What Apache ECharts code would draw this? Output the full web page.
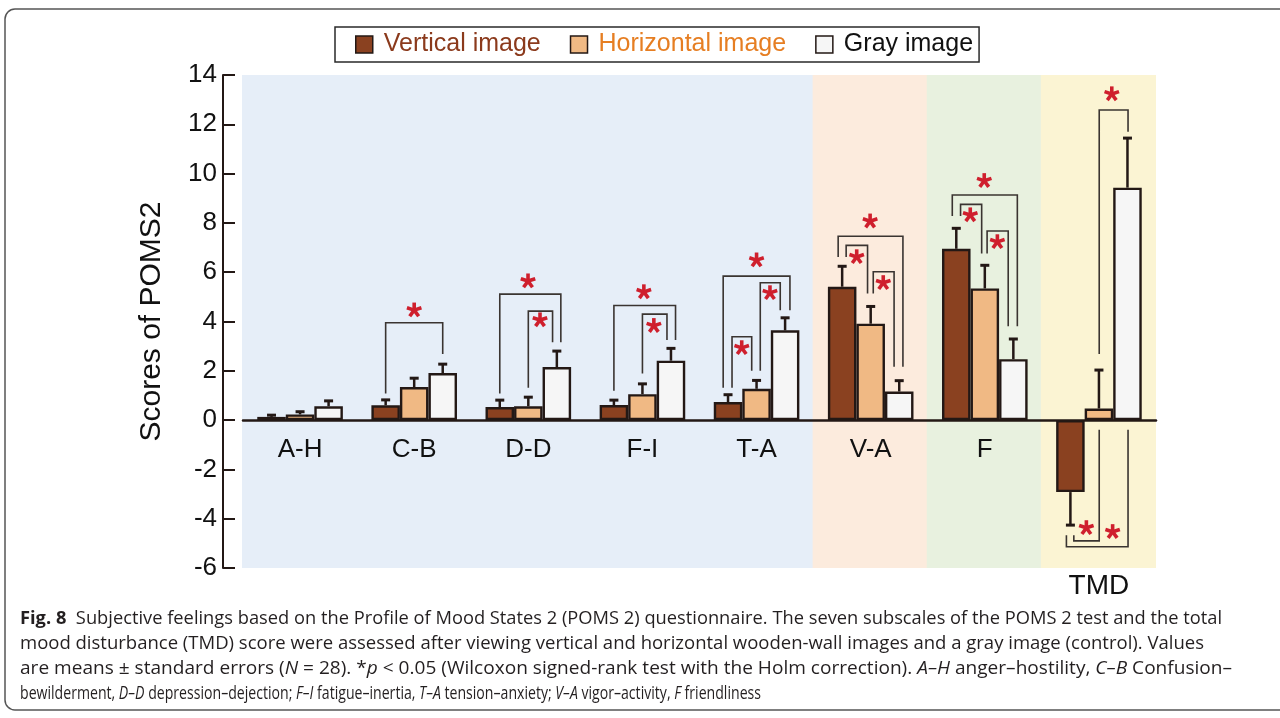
<!DOCTYPE html>
<html><head><meta charset="utf-8">
<script src="https://cdn.jsdelivr.net/npm/echarts@6/dist/echarts.min.js"></script>
<style>html,body{margin:0;padding:0;background:#fff}#c{width:1280px;height:718px}</style>
</head><body><div id="c"></div>
<script>
// ---------- data ----------
const categories = ['A-H', 'C-B', 'D-D', 'F-I', 'T-A', 'V-A', 'F', 'TMD'];
const seriesNames = ['Vertical image', 'Horizontal image', 'Gray image'];
const verticalMean   = [0.13, 0.60, 0.53, 0.61, 0.73, 5.41, 6.95, -2.92];
const verticalSE     = [0.07, 0.22, 0.28, 0.20, 0.30, 0.83, 0.83, 1.34];
const horizontalMean = [0.23, 1.34, 0.56, 1.05, 1.27, 3.91, 5.34, 0.47];
const horizontalSE   = [0.11, 0.36, 0.37, 0.42, 0.34, 0.70, 0.94, 1.56];
const grayMean       = [0.56, 1.91, 2.15, 2.41, 3.64, 1.16, 2.47, 9.43];
const graySE         = [0.22, 0.36, 0.65, 0.50, 0.51, 0.44, 0.82, 2.01];
const yMin = -6, yMax = 14, yInterval = 2;
// significance brackets (data units; slot 0 = vertical, 1 = horizontal, 2 = gray)
// [category, legA slot, legB slot, bracket level, legA end, legB end, star slot, star y]
const brackets = [
  [1, 0.00, 2.00, 3.95, 1.08, 2.68, 1.00, 4.46],
  [2, 0.00, 2.14, 5.11, 1.08, 3.16, 0.99, 5.64],
  [2, 1.00, 1.85, 4.42, 1.31, 3.16, 1.41, 4.06],
  [3, 0.00, 2.16, 4.65, 1.19, 3.25, 1.05, 5.20],
  [3, 1.00, 1.86, 4.30, 1.89, 3.25, 1.40, 3.83],
  [4, -0.17, 2.17, 5.84, 1.31, 4.46, 1.00, 6.49],
  [4, 0.14, 0.83, 3.38, 1.31, 2.00, 0.48, 2.93],
  [4, 1.13, 1.83, 5.57, 2.00, 4.46, 1.47, 5.16],
  [5, -0.14, 2.13, 7.46, 6.62, 2.16, 0.98, 8.07],
  [5, 0.14, 0.89, 7.09, 6.62, 5.14, 0.51, 6.62],
  [5, 1.09, 1.82, 6.02, 5.14, 2.16, 1.44, 5.57],
  [6, -0.14, 2.14, 9.13, 8.28, 3.81, 0.98, 9.71],
  [6, 0.15, 0.89, 8.75, 8.28, 6.76, 0.49, 8.32],
  [6, 1.08, 1.82, 7.67, 6.76, 3.81, 1.44, 7.23],
  [7, 1.01, 2.02, 12.58, 2.68, 11.70, 1.45, 13.23],
  [7, 0.12, 1.01, -4.90, -4.67, -0.39, 0.56, -4.37],
  [7, -0.14, 2.02, -5.14, -4.67, -0.39, 1.48, -4.53]
];
// background groups: [first category, last category, colour index]
const bandGroups = [[0, 4, 0], [5, 5, 1], [6, 6, 2], [7, 7, 3]];
// caption lines: [text, style]
const captionLines = [
  [['Fig. 8', 'b'], ['  Subjective feelings based on the Profile of Mood States 2 (POMS 2) questionnaire. The seven subscales of the POMS 2 test and the total', 'n']],
  [['mood disturbance (TMD) score were assessed after viewing vertical and horizontal wooden-wall images and a gray image (control). Values', 'n']],
  [['are means ± standard errors (', 'n'], ['N', 'i'], [' = 28). *', 'n'], ['p', 'i'], [' < 0.05 (Wilcoxon signed-rank test with the Holm correction). ', 'n'], ['A–H', 'i'], [' anger–hostility, ', 'n'], ['C–B', 'i'], [' Confusion–', 'n']],
  [['bewilderment, ', 'n'], ['D–D', 'i'], [' depression–dejection; ', 'n'], ['F–I', 'i'], [' fatigue–inertia, ', 'n'], ['T–A', 'i'], [' tension–anxiety; ', 'n'], ['V–A', 'i'], [' vigor–activity, ', 'n'], ['F', 'i'], [' friendliness', 'n']]
];

// ---------- style ----------
const barColors = ['#8a4120', '#f0b984', '#f6f6f6'];
const legendTextColors = ['#8b3a1c', '#e67e22', '#111111'];
const bandColors = ['#e6eef8', '#fcebdd', '#e8f1df', '#fbf4d3'];
const ink = '#231815';
const FONT = '"Liberation Sans", Arial, sans-serif';
const CAP_FONT = '"Open Sans", sans-serif';
const capLineWidths = [1202, 1184, 1212, 741];
const capY = [619, 644, 669, 694];

const means = [verticalMean, horizontalMean, grayMean];
const ses = [verticalSE, horizontalSE, graySE];

const chart = echarts.init(document.getElementById('c'), null, {renderer: 'canvas'});

const errData = [];
for (let k = 0; k < 3; k++) for (let i = 0; i < categories.length; i++) errData.push([i, means[k][i], ses[k][i], k]);
const bandData = bandGroups.map(g => [g[0], g[1], g[2], yMin, yMax]);

function renderBand(params, api) {
  const bw = api.size([1, 0])[0];
  const p0 = api.coord([api.value(0), yMax]);
  const p1 = api.coord([api.value(1), yMin]);
  return {type: 'rect', shape: {x: p0[0] - bw / 2 - 1, y: p0[1], width: p1[0] - p0[0] + bw + 1, height: p1[1] - p0[1]},
    style: {fill: bandColors[api.value(2)]}};
}
function renderErr(params, api) {
  const i = api.value(0), m = api.value(1), se = api.value(2), k = api.value(3);
  const slot = api.size([1, 0])[0] / 4;
  const end = m >= 0 ? m + se : m - se;
  const p0 = api.coord([i, m]), p1 = api.coord([i, end]);
  const x = p0[0] + (k - 1) * slot;
  return {type: 'group', children: [
    {type: 'line', shape: {x1: x, y1: p0[1], x2: x, y2: p1[1]}, style: {stroke: ink, lineWidth: 2.5}},
    {type: 'line', shape: {x1: x - 4.5, y1: p1[1], x2: x + 4.5, y2: p1[1]}, style: {stroke: ink, lineWidth: 3}}
  ]};
}
function renderBracket(params, api) {
  const c = api.value(0);
  const slot = api.size([1, 0])[0] / 4;
  const cx = api.coord([c, 0])[0];
  const X = s => cx + (s - 1) * slot;
  const Y = v => api.coord([c, v])[1];
  const xa = X(api.value(1)), xb = X(api.value(2));
  const yl = Y(api.value(3)), ya = Y(api.value(4)), yb = Y(api.value(5));
  const sx = X(api.value(6)), sy = Y(api.value(7));
  const children = [{type: 'polyline', shape: {points: [[xa, ya], [xa, yl], [xb, yl], [xb, yb]]},
    style: {stroke: '#3a3431', lineWidth: 1.6, fill: null}}];
  const r = 7.6;
  for (let a = 0; a < 5; a++) {
    const t = -Math.PI / 2 + a * 2 * Math.PI / 5;
    children.push({type: 'line', shape: {x1: sx, y1: sy, x2: sx + r * Math.cos(t), y2: sy + r * Math.sin(t)},
      style: {stroke: '#cf1f2d', lineWidth: 3.6}});
  }
  return {type: 'group', children};
}

// caption (each line fitted to the width it takes in the reference)
const ctx = document.createElement('canvas').getContext('2d');
const capSize = 18;
const segFont = {n: `normal ${capSize}px ${CAP_FONT}`, b: `bold ${capSize}px ${CAP_FONT}`, i: `italic ${capSize}px ${CAP_FONT}`};
function measureLine(segs) {
  let w = 0;
  segs.forEach(s => { ctx.font = segFont[s[1]]; w += ctx.measureText(s[0]).width; });
  return w;
}
const captionGraphics = captionLines.map((segs, li) => {
  const text = segs.map(s => `{${s[1]}|${s[0]}}`).join('');
  return {type: 'text', x: 20, y: capY[li], scaleX: capLineWidths[li] / measureLine(segs), scaleY: 1, silent: true,
    style: {text, fill: '#231f20', textVerticalAlign: 'middle',
      rich: {n: {fontSize: capSize, fontFamily: CAP_FONT, fill: '#231f20'},
             b: {fontSize: capSize, fontFamily: CAP_FONT, fontWeight: 'bold', fill: '#231f20'},
             i: {fontSize: capSize, fontFamily: CAP_FONT, fontStyle: 'italic', fill: '#231f20'}}}};
});

const option = {
  animation: false,
  textStyle: {fontFamily: FONT},
  grid: [
    {left: 243, right: 124, top: 75, bottom: 150, containLabel: false},
    {left: 243, right: 124, top: 75, bottom: 298, containLabel: false}
  ],
  legend: {
    left: 335, top: 27, itemWidth: 17, itemHeight: 17, itemGap: 29, padding: [5, 6, 5, 20],
    borderColor: '#2a2a2a', borderWidth: 1.5, icon: 'rect',
    itemStyle: {borderWidth: 1.5},
    textStyle: {fontSize: 25, fontFamily: FONT, padding: [0, 0, 0, 6]},
    data: seriesNames.map((n, k) => ({name: n, textStyle: {color: legendTextColors[k]}}))
  },
  xAxis: [{
    type: 'category', data: categories, gridIndex: 0, z: 3,
    axisLine: {onZero: true, lineStyle: {color: ink, width: 2.5}},
    axisTick: {show: false},
    axisLabel: {show: false}
  }, {
    type: 'category', data: categories, gridIndex: 0, position: 'bottom',
    axisLine: {show: false, onZero: false}, axisTick: {show: false},
    axisLabel: {interval: 0, fontSize: 28, color: '#111', margin: 4, fontFamily: FONT,
      formatter: v => v === 'TMD' ? v : ''}
  }, {
    type: 'category', data: categories, gridIndex: 1, position: 'bottom',
    axisLine: {show: false, onZero: false}, axisTick: {show: false},
    axisLabel: {interval: 0, fontSize: 26, color: '#111', margin: 17, fontFamily: FONT,
      formatter: v => v === 'TMD' ? '' : v}
  }],
  yAxis: [{
    type: 'value', gridIndex: 0, min: yMin, max: yMax, interval: yInterval, offset: 20,
    name: 'Scores of POMS2', nameLocation: 'middle', nameGap: 56,
    nameTextStyle: {fontSize: 30, color: '#111', fontFamily: FONT},
    axisLine: {show: true, onZero: false, lineStyle: {color: ink, width: 2}},
    axisTick: {show: true, inside: true, length: 12, lineStyle: {color: ink, width: 2}},
    axisLabel: {fontSize: 26, color: '#111', margin: 6, fontFamily: FONT},
    splitLine: {show: false}
  }, {
    type: 'value', gridIndex: 1, min: 0, max: yMax, show: false
  }],
  series: [
    {type: 'custom', name: 'bands', z: -1, silent: true, renderItem: renderBand, data: bandData,
      encode: {x: [0, 1], y: [3, 4]}, clip: false},
    ...seriesNames.map((n, k) => ({
      type: 'bar', name: n, data: means[k], barWidth: '25%', barGap: '0%', z: 2,
      itemStyle: {color: barColors[k], borderColor: ink, borderWidth: 2.4},
      emphasis: {disabled: true}
    })),
    {type: 'custom', name: 'errors', z: 4, silent: true, renderItem: renderErr, data: errData,
      encode: {x: 0, y: 1}, clip: false},
    {type: 'custom', name: 'brackets', z: 5, silent: true, renderItem: renderBracket, data: brackets,
      encode: {x: 0, y: [3, 4, 5, 7]}, clip: false}
  ],
  graphic: [
    {type: 'rect', shape: {x: 5, y: 9, width: 1300, height: 701, r: 10}, silent: true,
      style: {fill: 'none', stroke: '#555', lineWidth: 1.5}},
    ...captionGraphics
  ]
};
chart.setOption(option);
</script>
</body></html>
